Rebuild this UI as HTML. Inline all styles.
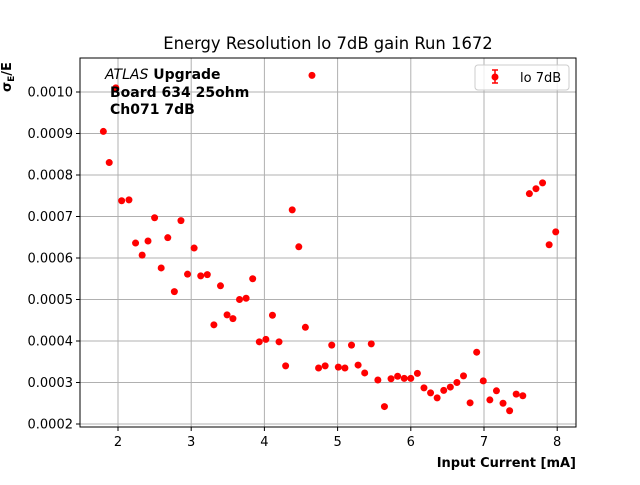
<!DOCTYPE html>
<html><head><meta charset="utf-8"><style>
body{margin:0;background:#fff;}
svg{font-family:"DejaVu Sans","Liberation Sans",sans-serif;}
</style></head><body>
<svg id="chart" width="640" height="480" xmlns="http://www.w3.org/2000/svg">
<rect width="640" height="480" fill="#fff"/>
<text x="328" y="49" font-size="16.4" text-anchor="middle">Energy Resolution lo 7dB gain Run 1672</text>
<g id="grid"></g>
<g id="ticks"></g>
<g id="points"></g>
<rect x="80" y="58" width="496" height="369" fill="none" stroke="#000" stroke-width="1"/>
<text x="576" y="467" font-size="13" font-weight="bold" text-anchor="end">Input Current [mA]</text>
<text transform="translate(11,92) rotate(-90)" font-size="13" font-weight="bold" text-anchor="start">σ<tspan font-size="9" dy="3">E</tspan><tspan dy="-3">/E</tspan></text>
<g font-size="14">
<text x="105" y="79"><tspan font-style="italic">ATLAS</tspan><tspan font-weight="bold"> Upgrade</tspan></text>
<text x="110" y="97" font-weight="bold">Board 634 25ohm</text>
<text x="110" y="114" font-weight="bold">Ch071 7dB</text>
</g>
<g>
<rect x="475" y="65" width="94" height="25" rx="3" fill="#fff" fill-opacity="0.8" stroke="#ccc"/>
<line x1="495" y1="70" x2="495" y2="83" stroke="red" stroke-width="1.5"/>
<line x1="492" y1="70" x2="498" y2="70" stroke="red" stroke-width="1.5"/>
<line x1="492" y1="83" x2="498" y2="83" stroke="red" stroke-width="1.5"/>
<circle cx="495" cy="77" r="3.5" fill="red"/>
<text x="520" y="82" font-size="13">lo 7dB</text>
</g>
</svg>
<script>
const xVals=[1.8,1.88,1.97,2.05,2.15,2.24,2.33,2.41,2.5,2.59,2.68,2.77,2.86,2.95,3.04,3.13,3.22,3.31,3.4,3.49,3.57,3.66,3.75,3.84,3.93,4.02,4.11,4.2,4.29,4.38,4.47,4.56,4.65,4.74,4.83,4.92,5.01,5.1,5.19,5.28,5.37,5.46,5.55,5.64,5.73,5.82,5.91,6.0,6.09,6.18,6.27,6.36,6.45,6.54,6.63,6.72,6.81,6.9,6.99,7.08,7.17,7.26,7.35,7.44,7.53,7.62,7.71,7.8,7.89,7.98];
const yVals=[0.000905,0.00083,0.00101,0.000738,0.00074,0.000636,0.000607,0.000641,0.000697,0.000576,0.000649,0.000519,0.00069,0.000561,0.000624,0.000557,0.00056,0.000439,0.000533,0.000463,0.000454,0.0005,0.000503,0.00055,0.000398,0.000404,0.000462,0.000398,0.00034,0.000716,0.000627,0.000433,0.00104,0.000335,0.00034,0.00039,0.000337,0.000335,0.00039,0.000342,0.000323,0.000393,0.000306,0.000242,0.000309,0.000315,0.00031,0.00031,0.000322,0.000287,0.000275,0.000263,0.000281,0.000289,0.0003,0.000316,0.000251,0.000373,0.000304,0.000258,0.00028,0.00025,0.000232,0.000272,0.000268,0.000755,0.000767,0.000781,0.000632,0.000663];
const xTicks=[2,3,4,5,6,7,8];
const yTicks=[0.0002,0.0003,0.0004,0.0005,0.0006,0.0007,0.0008,0.0009,0.0010];
const yTickLabels=["0.0002","0.0003","0.0004","0.0005","0.0006","0.0007","0.0008","0.0009","0.0010"];
const NS="http://www.w3.org/2000/svg";
function sx(v){return 118+(v-2)*73.2;}
function sy(v){return 92-(v-0.001)/0.0001*41.5;}
function mk(tag,attrs,parent){const e=document.createElementNS(NS,tag);for(const k in attrs)e.setAttribute(k,attrs[k]);parent.appendChild(e);return e;}
const grid=document.getElementById('grid'),ticks=document.getElementById('ticks'),pts=document.getElementById('points');
xTicks.forEach(t=>{const x=sx(t);
 const g=mk('line',{x1:x,x2:x,y1:58,y2:427,stroke:'#b0b0b0','stroke-width':1},grid);
 
 
 mk('line',{x1:x,x2:x,y1:427,y2:431,stroke:'#000'},ticks);
 const l=mk('text',{x:x,y:446,'font-size':13,'text-anchor':'middle'},ticks);l.textContent=t;
 
 
});
yTicks.forEach((t,i)=>{const y=sy(t);
 const g=mk('line',{x1:80,x2:576,y1:y,y2:y,stroke:'#b0b0b0','stroke-width':1},grid);
 
 
 mk('line',{x1:76,x2:80,y1:y,y2:y,stroke:'#000'},ticks);
 const l=mk('text',{x:73,y:y+4.5,'font-size':13,'text-anchor':'end'},ticks);l.textContent=yTickLabels[i];
 
 
});
xVals.forEach((x,i)=>{
 const c=mk('circle',{cx:sx(x),cy:sy(yVals[i]),r:3.5,fill:'red'},pts);
 
 
});
</script>
</body></html>
